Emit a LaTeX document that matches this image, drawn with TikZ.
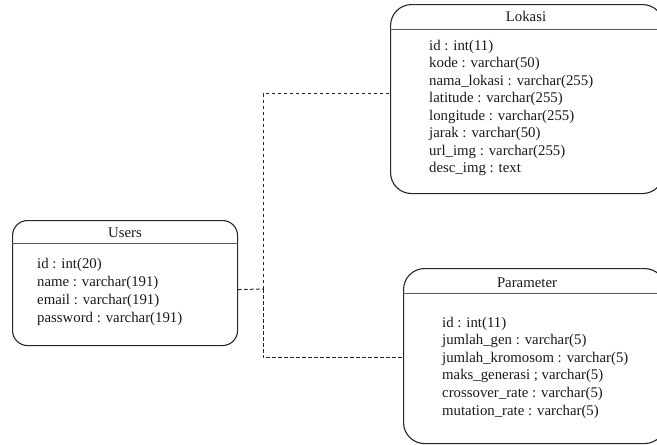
\documentclass[tikz,border=0pt]{standalone}
\usepackage{fontspec}
\setmainfont{Liberation Serif}
\begin{document}
\begin{tikzpicture}[x=1pt,y=-1pt,
  every node/.style={font=\fontsize{14.8}{17}\selectfont, inner sep=0pt, text=black!90},
  entity/.style={draw=black!85, line width=1.1pt, anchor=north west, inner sep=0pt},
  header/.style={draw=black!65, line width=0.9pt},
  etitle/.style={anchor=base},
  field/.style={anchor=base west},
  conn/.style={draw=black!85, line width=1pt, dash pattern=on 3.5pt off 2.5pt}]
\useasboundingbox (0,0) rectangle (657,445);
\clip (0,0) rectangle (657,445);

% Users table
\node[entity, rounded corners=15pt, minimum width=225pt, minimum height=125pt] (users) at (12,220) {};
\draw[header] ([yshift=-23pt]users.north west) -- ([yshift=-23pt]users.north east);
\node[etitle] (usersT) at (125,237) {Users};
\foreach \t [count=\i] in {id : int(20), name : varchar(191), email : varchar(191), password : varchar(191)}
  \node[field] (users-\i) at (37,{268+18*(\i-1)}) {\t};

% Lokasi table
\node[entity, rounded corners=21pt, minimum width=273pt, minimum height=189pt] (lokasi) at (390,4) {};
\draw[header] ([yshift=-25pt]lokasi.north west) -- ([yshift=-25pt]lokasi.north east);
\node[etitle] (lokasiT) at (526,21) {Lokasi};
\foreach \t [count=\i] in {id : int(11), kode : varchar(50), nama\_lokasi : varchar(255), latitude : varchar(255), longitude : varchar(255), jarak : varchar(50), url\_img : varchar(255), desc\_img : text}
  \node[field] (lokasi-\i) at (429,{50+17.5*(\i-1)}) {\t};

% Parameter table
\node[entity, rounded corners=21pt, minimum width=262pt, minimum height=175pt] (param) at (403,268) {};
\draw[header] ([yshift=-25pt]param.north west) -- ([yshift=-25pt]param.north east);
\node[etitle] (paramT) at (527,287) {Parameter};
\foreach \t [count=\i] in {id : int(11), jumlah\_gen : varchar(5), jumlah\_kromosom : varchar(5), maks\_generasi ; varchar(5), crossover\_rate : varchar(5), mutation\_rate : varchar(5)}
  \node[field] (param-\i) at (442,{327+17.6*(\i-1)}) {\t};

% Relations
\coordinate (hub) at (263,289);
\draw[conn] ([yshift=-6.5pt]users.east) -- (hub);
\draw[conn] (hub) |- ([yshift=5.5pt]lokasi.west);
\draw[conn] (hub) |- ([yshift=-1.5pt]param.west);
\end{tikzpicture}
\end{document}
